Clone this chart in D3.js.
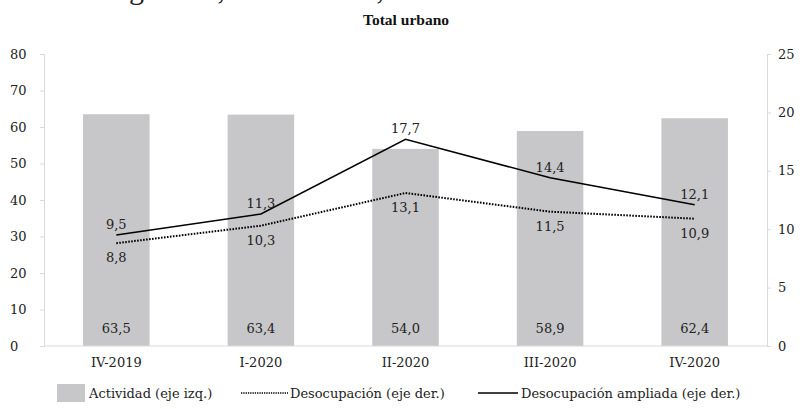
<!DOCTYPE html>
<html><head><meta charset="utf-8">
<script src="https://cdn.jsdelivr.net/npm/d3@7"></script>
<style>
html,body{margin:0;padding:0;background:#fff;}
svg{display:block;}
</style></head>
<body><svg id="chart" width="800" height="409"></svg>
<script>
const categories = ["IV-2019","I-2020","II-2020","III-2020","IV-2020"];
const actividad = [63.5,63.4,54.0,58.9,62.4];
const desocupacion = [8.8,10.3,13.1,11.5,10.9];
const desocupacionAmpliada = [9.5,11.3,17.7,14.4,12.1];
const leftTicks = [0,10,20,30,40,50,60,70,80];
const rightTicks = [0,5,10,15,20,25];
const legendLabels = ["Actividad (eje izq.)","Desocupación (eje der.)","Desocupación ampliada (eje der.)"];

const FONT = "DejaVu Serif";
const fmt = v => d3.format(".1f")(v).replace(".", ",");
const svg = d3.select("#chart").attr("font-family", FONT);
const m = {left:44, right:767, top:54, bottom:346};

const x = d3.scaleBand().domain(categories).range([m.left, m.right]).paddingInner(0.54).paddingOuter(0.27);
const yL = d3.scaleLinear().domain([0,80]).range([m.bottom, m.top]);
const yR = d3.scaleLinear().domain([0,25]).range([m.bottom, m.top]);
const cx = c => x(c) + x.bandwidth()/2;

// clipped title remnant (only the descenders are visible in the reference)
svg.append("text").attr("x", 98).attr("y", -1).attr("font-size", 30)
  .attr("font-family","Liberation Serif").attr("fill","#222")
  .text("Argentina, total urbano, IV-2019 a IV-2020");

svg.append("text").attr("x", 406).attr("y", 25).attr("text-anchor","middle")
  .attr("font-family","Liberation Serif").attr("font-size", 15.5).attr("font-weight","bold")
  .attr("fill","#111").text("Total urbano");

// bars
svg.append("g").selectAll("rect").data(categories).join("rect")
  .attr("x", d => x(d)).attr("width", x.bandwidth())
  .attr("y", (d,i) => yL(actividad[i])).attr("height", (d,i) => yL(0) - yL(actividad[i]))
  .attr("fill", "#c7c7c9");

// axes
const axisColor = "#d9d9d9";
const gL = svg.append("g").attr("transform", `translate(${m.left},0)`)
  .call(d3.axisLeft(yL).tickValues(leftTicks).tickSize(4).tickPadding(14));
const gR = svg.append("g").attr("transform", `translate(${m.right},0)`)
  .call(d3.axisRight(yR).tickValues(rightTicks).tickSize(4).tickPadding(7));
const gB = svg.append("g").attr("transform", `translate(0,${m.bottom})`)
  .call(d3.axisBottom(x).tickSize(0).tickPadding(12));
[gL,gR,gB].forEach(g => {
  g.attr("font-family", FONT);
  g.selectAll("path.domain").attr("stroke", axisColor);
  g.selectAll(".tick line").attr("stroke", axisColor);
  g.selectAll("text").attr("font-size", 13).attr("fill","#222");
});
gB.select("path.domain").attr("d", `M${m.left},0H${m.right}`);
gL.selectAll(".tick text").attr("text-anchor","start").attr("x", -34);

// lines
const lineGen = arr => d3.line().x((d,i) => cx(categories[i])).y(d => yR(d))(arr);
svg.append("path").attr("d", lineGen(desocupacion)).attr("fill","none")
  .attr("stroke","#000").attr("stroke-width",2).attr("stroke-dasharray","1.6,1.4");
svg.append("path").attr("d", lineGen(desocupacionAmpliada)).attr("fill","none")
  .attr("stroke","#000").attr("stroke-width",1.5);

// labels
const lbl = svg.append("g").attr("font-size", 13).attr("fill","#222").attr("text-anchor","middle");
lbl.selectAll(".la").data(categories).join("text")
  .attr("x", d => cx(d)).attr("y", (d,i) => yR(desocupacionAmpliada[i]) - 6)
  .text((d,i) => fmt(desocupacionAmpliada[i]));
lbl.selectAll(".ld").data(categories).join("text")
  .attr("x", d => cx(d)).attr("y", (d,i) => yR(desocupacion[i]) + 19)
  .text((d,i) => fmt(desocupacion[i]));
lbl.selectAll(".lb").data(categories).join("text")
  .attr("x", d => cx(d)).attr("y", yL(0) - 13)
  .text((d,i) => fmt(actividad[i]));

// legend
const lg = svg.append("g").attr("font-size", 13).attr("fill","#222");
lg.append("rect").attr("x", 57).attr("y", 384).attr("width", 28).attr("height", 18).attr("fill","#c7c7c9");
lg.append("text").attr("x", 89).attr("y", 398).text(legendLabels[0]);
lg.append("line").attr("x1", 241).attr("x2", 288).attr("y1", 393).attr("y2", 393)
  .attr("stroke","#000").attr("stroke-width",1.6).attr("stroke-dasharray","1.3,1");
lg.append("text").attr("x", 290).attr("y", 398).text(legendLabels[1]);
lg.append("line").attr("x1", 478).attr("x2", 518).attr("y1", 393).attr("y2", 393)
  .attr("stroke","#000").attr("stroke-width",1.4);
lg.append("text").attr("x", 521).attr("y", 398).text(legendLabels[2]);
</script></body></html>
